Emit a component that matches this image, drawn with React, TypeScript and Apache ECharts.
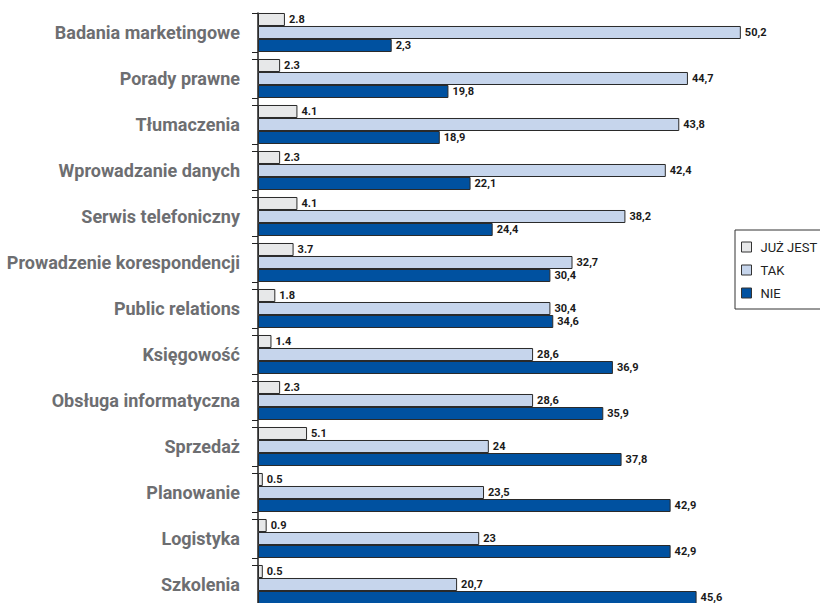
import React, { useEffect, useRef } from "react";
import * as echarts from "echarts";

const categories = [
  "Badania marketingowe",
  "Porady prawne",
  "Tłumaczenia",
  "Wprowadzanie danych",
  "Serwis telefoniczny",
  "Prowadzenie korespondencji",
  "Public relations",
  "Księgowość",
  "Obsługa informatyczna",
  "Sprzedaż",
  "Planowanie",
  "Logistyka",
  "Szkolenia",
];
const seriesNames = ["JUŻ JEST", "TAK", "NIE"];
// bar lengths as drawn in the picture
const juzJest = [2.8, 2.3, 4.1, 2.3, 4.1, 3.7, 1.8, 1.4, 2.3, 5.1, 0.5, 0.9, 0.5];
const tak = [50.2, 44.7, 43.8, 42.4, 38.2, 32.7, 30.4, 28.6, 28.6, 24, 23.5, 23, 20.7];
const nie = [13.9, 19.8, 18.9, 22.1, 24.4, 30.4, 30.7, 36.9, 35.9, 37.8, 42.9, 42.9, 45.6];
// value labels as printed in the picture
const juzJestLabels = ["2.8", "2.3", "4.1", "2.3", "4.1", "3.7", "1.8", "1.4", "2.3", "5.1", "0.5", "0.9", "0.5"];
const takLabels = ["50,2", "44,7", "43,8", "42,4", "38,2", "32,7", "30,4", "28,6", "28,6", "24", "23,5", "23", "20,7"];
const nieLabels = ["2,3", "19,8", "18,9", "22,1", "24,4", "30,4", "34,6", "36,9", "35,9", "37,8", "42,9", "42,9", "45,6"];

const FONT = "Roboto, 'Liberation Sans', sans-serif";

export default function App() {
  const ref = useRef<HTMLDivElement>(null);
  useEffect(() => {
    if (!ref.current) return;
    const chart = echarts.init(ref.current, null, { renderer: "svg" });
    const mk = (name: string, data: number[], labels: string[], color: string) => ({
      name,
      type: "bar" as const,
      data,
      barGap: "0%",
      barCategoryGap: "15.2%",
      itemStyle: { color, borderColor: "#2a2a2a", borderWidth: 1 },
      label: {
        show: true,
        position: "right" as const,
        distance: 4,
        color: "#1a1a1a",
        fontFamily: FONT,
        fontWeight: "bold" as const,
        fontSize: 11,
        formatter: (p: any) => labels[p.dataIndex],
      },
    });
    const BAND = 46;
    const GROUP = 39;
    const top0 = 13 - (BAND - GROUP) / 2;
    chart.setOption({
      animation: false,
      backgroundColor: "#ffffff",
      grid: [
        { left: 258, top: top0, width: 529, height: BAND * categories.length, outerBoundsMode: "none", containLabel: false },
        { left: 258, top: 13, width: 529, height: BAND * categories.length, outerBoundsMode: "none", containLabel: false },
        { left: 258, top: 13 + GROUP, width: 529, height: BAND * (categories.length - 1), outerBoundsMode: "none", containLabel: false },
      ],
      legend: {
        orient: "vertical",
        left: 735,
        top: 230,
        borderColor: "#333",
        borderWidth: 1,
        padding: [10, 12, 9, 6],
        icon: "rect",
        itemWidth: 10,
        itemHeight: 10,
        itemGap: 9,
        data: seriesNames,
        textStyle: { fontFamily: FONT, fontSize: 13, lineHeight: 14, color: "#222", padding: [0, 0, 0, 4] },
        itemStyle: { borderColor: "#333", borderWidth: 1 },
      },
      xAxis: [
        { type: "value", gridIndex: 0, min: 0, max: 55, show: false },
        { type: "value", gridIndex: 1, min: 0, max: 55, show: false },
        { type: "value", gridIndex: 2, min: 0, max: 55, show: false },
      ],
      yAxis: [
        {
          type: "category",
          gridIndex: 0,
          data: categories,
          inverse: true,
          axisLine: { show: false },
          axisTick: { show: false },
          axisLabel: {
            fontFamily: FONT,
            fontWeight: "bold",
            fontSize: 18,
            color: "#6d6e71",
            margin: 18,
          },
        },
        {
          type: "category",
          gridIndex: 1,
          data: categories,
          inverse: true,
          axisLine: { show: true, lineStyle: { color: "#222", width: 1.5 } },
          axisTick: { show: true, length: 6, lineStyle: { color: "#222", width: 1 } },
          axisLabel: { show: false },
        },
        {
          type: "category",
          gridIndex: 2,
          data: categories.slice(1),
          inverse: true,
          axisLine: { show: false },
          axisTick: { show: true, length: 6, lineStyle: { color: "#222", width: 1 } },
          axisLabel: { show: false },
        },
      ],
      series: [
        mk(seriesNames[0], juzJest, juzJestLabels, "#e7e8e9"),
        mk(seriesNames[1], tak, takLabels, "#c6d5ec"),
        mk(seriesNames[2], nie, nieLabels, "#0051a0"),
      ],
    });
    return () => chart.dispose();
  }, []);
  return (
    <div
      ref={ref}
      style={{ position: "fixed", left: 0, top: 0, width: 820, height: 603, background: "#fff" }}
    />
  );
}
